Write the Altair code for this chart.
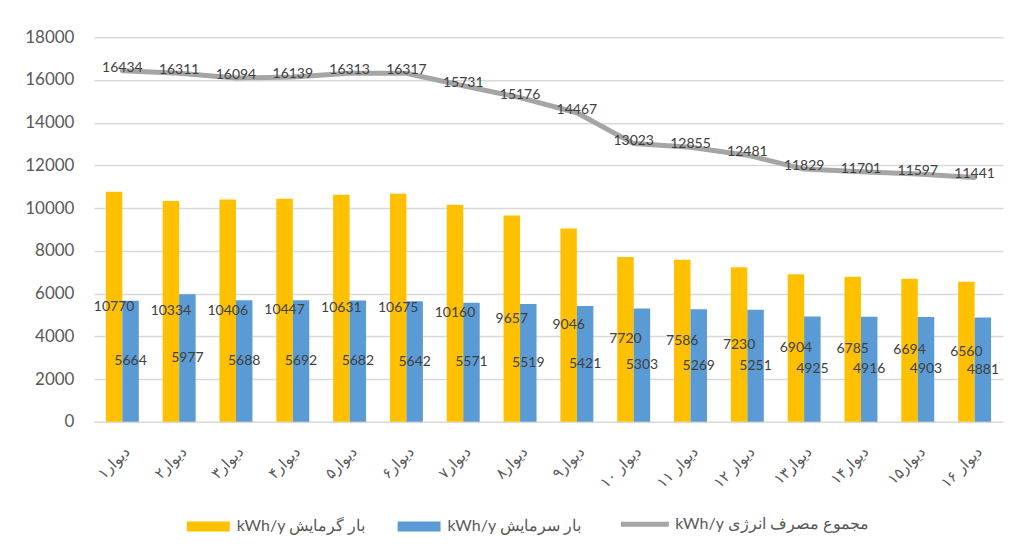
import altair as alt
import pandas as pd

walls = ["دیوار۱", "دیوار۲", "دیوار۳", "دیوار۴", "دیوار۵", "دیوار۶", "دیوار۷", "دیوار۸",
         "دیوار۹", "دیوار ۱۰", "دیوار ۱۱", "دیوار ۱۲", "دیوار۱۳", "دیوار۱۴", "دیوار۱۵", "دیوار ۱۶"]
heating = [10770, 10334, 10406, 10447, 10631, 10675, 10160, 9657, 9046, 7720, 7586, 7230, 6904, 6785, 6694, 6560]
cooling = [5664, 5977, 5688, 5692, 5682, 5642, 5571, 5519, 5421, 5303, 5269, 5251, 4925, 4916, 4903, 4881]
total = [16434, 16311, 16094, 16139, 16313, 16317, 15731, 15176, 14467, 13023, 12855, 12481, 11829, 11701, 11597, 11441]

heat_name = "kWh/y بار گرمایش"
cool_name = "kWh/y بار سرمایش"
total_name = "kWh/y مجموع مصرف انرژی"
y_ticks = [0, 2000, 4000, 6000, 8000, 10000, 12000, 14000, 16000, 18000]

bars_df = pd.DataFrame(
    [{"wall": w, "series": heat_name, "value": v} for w, v in zip(walls, heating)]
    + [{"wall": w, "series": cool_name, "value": v} for w, v in zip(walls, cooling)]
)
line_df = pd.DataFrame({"wall": walls, "value": total, "series": total_name})

FONT = "Lato"
TXT = "#404040"

x_enc = alt.X(
    "wall:N", sort=walls, title=None,
    scale=alt.Scale(paddingInner=0.42, paddingOuter=0.21),
    axis=alt.Axis(labelAngle=315, labelPadding=22, ticks=False, domain=False,
                  labelFontSize=15, labelColor="#595959", labelFont="DejaVu Sans"),
)
y_scale = alt.Scale(domain=[0, 18000], nice=False)
y_axis = alt.Axis(values=y_ticks, format="d", title=None, ticks=False, domain=False, labelPadding=20,
                  labelFontSize=17, labelColor="#595959", labelFont=FONT,
                  gridColor="#D9D9D9", gridWidth=1.5)
xoff = alt.XOffset("series:N", sort=[heat_name, cool_name])

bars = alt.Chart(bars_df).mark_bar().encode(
    x=x_enc,
    xOffset=xoff,
    y=alt.Y("value:Q", scale=y_scale, axis=y_axis),
    fill=alt.Fill(
        "series:N",
        scale=alt.Scale(domain=[heat_name, cool_name], range=["#FFC000", "#5B9BD5"]),
        legend=alt.Legend(
            title=None, orient="none", legendX=93, legendY=468, direction="horizontal",
            symbolType="M-1,-0.23H1V0.23H-1Z", symbolSize=1849, symbolStrokeWidth=0,
            labelFontSize=16, labelColor="#595959", labelFont=FONT, columnPadding=32,
            labelLimit=400, symbolOffset=0, labelOffset=7,
        ),
    ),
)

bar_labels = alt.Chart(bars_df).transform_calculate(
    half="datum.value / 2"
).mark_text(fontSize=14, font=FONT, color=TXT).encode(
    x=alt.X("wall:N", sort=walls),
    xOffset=xoff,
    y=alt.Y("half:Q", scale=y_scale),
    text=alt.Text("value:Q", format="d"),
)

line = alt.Chart(line_df).mark_line(strokeWidth=5, strokeCap="round", strokeJoin="round").encode(
    x=alt.X("wall:N", sort=walls),
    y=alt.Y("value:Q", scale=y_scale),
    stroke=alt.Stroke(
        "series:N",
        scale=alt.Scale(domain=[total_name], range=["#A5A5A5"]),
        legend=alt.Legend(
            title=None, orient="none", legendX=525, legendY=461, direction="horizontal",
            symbolType="stroke", symbolSize=2300, symbolStrokeWidth=5,
            labelFontSize=16, labelColor="#595959", labelFont=FONT, labelOffset=4,
            labelLimit=400,
        ),
    ),
)

line_labels = alt.Chart(line_df).mark_text(fontSize=14, font=FONT, color=TXT, dy=-3).encode(
    x=alt.X("wall:N", sort=walls),
    y=alt.Y("value:Q", scale=y_scale),
    text=alt.Text("value:Q", format="d"),
)

chart = alt.layer(bars, bar_labels, line, line_labels).resolve_scale(
    fill="independent", stroke="independent"
).properties(
    width=910, height=385,
    padding={"left": 16, "top": 20, "right": 2, "bottom": 5},
    background="white",
).configure_view(stroke=None)

chart.save("out.html", embed_options={"renderer": "svg", "actions": False})
